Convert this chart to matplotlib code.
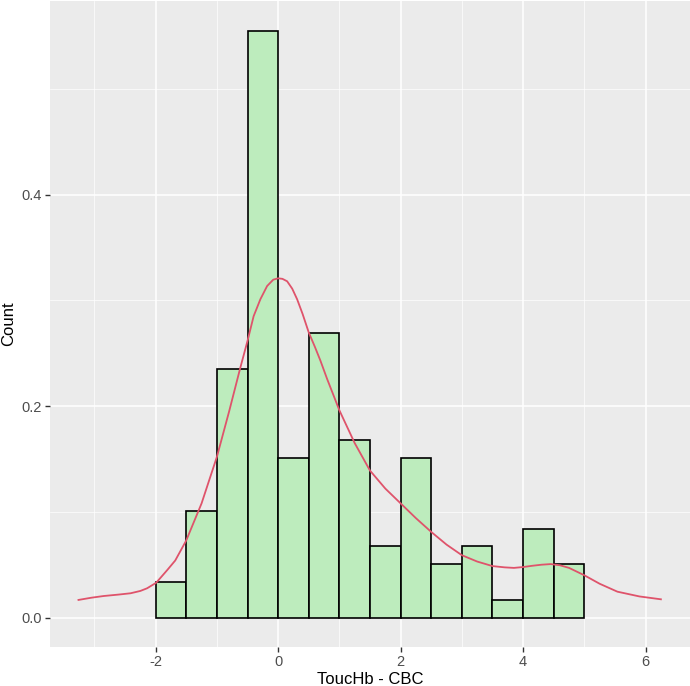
import matplotlib.pyplot as plt
import numpy as np
from matplotlib.ticker import MultipleLocator

plt.rcParams['font.family'] = ['Liberation Sans', 'DejaVu Sans']

# histogram bins (width 0.5) and counts
bin_edges = [-2.0, -1.5, -1.0, -0.5, 0.0, 0.5, 1.0, 1.5, 2.0, 2.5, 3.0, 3.5, 4.0, 4.5, 5.0]
counts = [2, 6, 14, 33, 9, 16, 10, 4, 9, 3, 4, 1, 5, 3]

# density curve
dens_x = [-3.26, -3.05, -2.85, -2.6, -2.41, -2.25, -2.14, -1.99, -1.81, -1.68, -1.5,
          -1.25, -1.0, -0.8, -0.616, -0.5, -0.4, -0.29, -0.18, -0.08, 0.0, 0.07,
          0.147, 0.23, 0.31, 0.4, 0.5, 0.6, 0.69, 0.8, 1.0, 1.25, 1.5, 1.75, 2.0,
          2.25, 2.5, 2.75, 3.0, 3.25, 3.5, 3.7, 3.85, 4.0, 4.15, 4.3, 4.45, 4.6,
          4.75, 5.0, 5.25, 5.54, 5.9, 6.25]
dens_y = [0.0167, 0.0188, 0.0204, 0.0218, 0.023, 0.0252, 0.0277, 0.033, 0.045, 0.054,
          0.073, 0.108, 0.152, 0.195, 0.2366, 0.2616, 0.285, 0.301, 0.3135, 0.3195,
          0.3208, 0.3203, 0.318, 0.311, 0.301, 0.287, 0.2696, 0.256, 0.243, 0.2256,
          0.196, 0.165, 0.139, 0.122, 0.108, 0.094, 0.081, 0.069, 0.059, 0.053,
          0.0487, 0.0475, 0.047, 0.0478, 0.049, 0.050, 0.0506, 0.0495, 0.047,
          0.040, 0.032, 0.0245, 0.020, 0.0173]

edges = np.array(bin_edges)
width = edges[1] - edges[0]
density = np.array(counts) / (sum(counts) * width)

fig = plt.figure(figsize=(6.9, 6.86), dpi=100)
ax = fig.add_axes([50 / 690, 39 / 686, 640 / 690, 646 / 686])
ax.set_facecolor('#EBEBEB')

ax.bar(edges[:-1], density, width=width, align='edge', color='#BDECBD',
       edgecolor='black', linewidth=1.2, zorder=3)
ax.plot(dens_x, dens_y, color='#DF536B', linewidth=1.3, zorder=4)

ax.set_xlim(-3.725, 6.725)
ax.set_ylim(-0.0278, 0.583)
ax.xaxis.set_major_locator(MultipleLocator(2))
ax.xaxis.set_minor_locator(MultipleLocator(1))
ax.yaxis.set_major_locator(MultipleLocator(0.2))
ax.yaxis.set_minor_locator(MultipleLocator(0.1))
ax.xaxis.set_major_formatter(plt.FuncFormatter(lambda v, p: f'{v:.0f}'))
ax.yaxis.set_major_formatter(plt.FuncFormatter(lambda v, p: f'{v:.1f}'))

ax.grid(which='major', color='white', linewidth=1.1, zorder=0)
ax.grid(which='minor', color='white', linewidth=0.5, zorder=0)
ax.set_axisbelow(True)
for s in ax.spines.values():
    s.set_visible(False)

ax.tick_params(which='major', length=3.8, width=1, color='#333333',
               labelcolor='#4D4D4D', labelsize=10.5, pad=2)
ax.tick_params(which='minor', length=0)

ax.set_xlabel('ToucHb - CBC', fontsize=12, color='black', labelpad=2)
ax.set_ylabel('Count', fontsize=12, color='black', labelpad=4)

fig.savefig('out.png', dpi=100)
